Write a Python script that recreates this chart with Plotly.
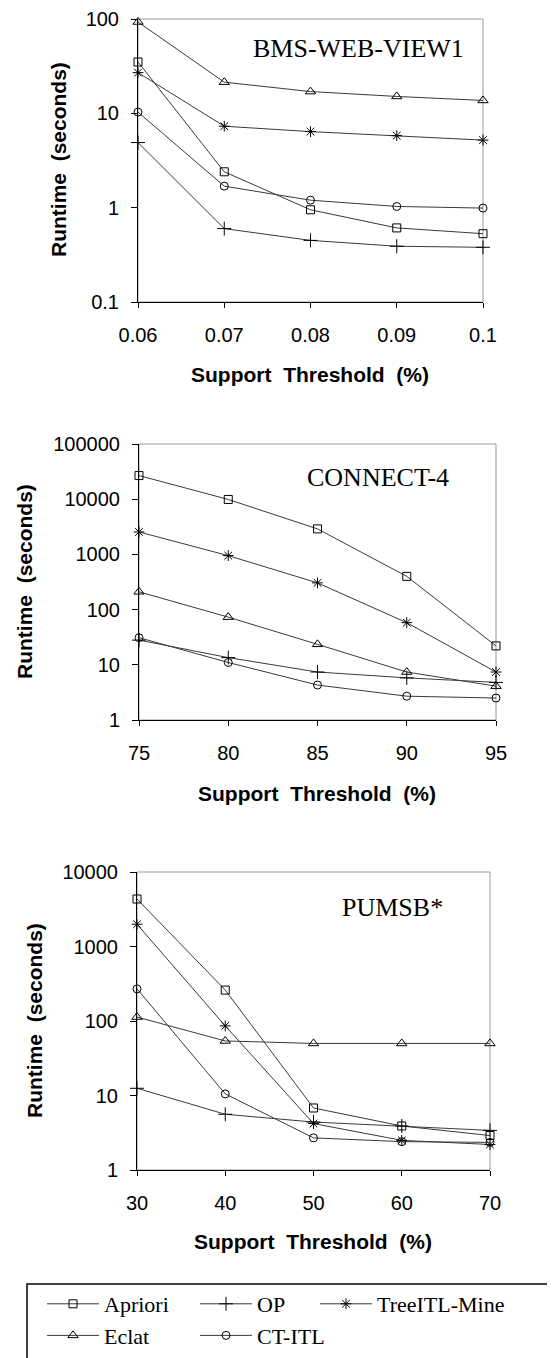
import math
import plotly.graph_objects as go

# ---------------- data ----------------
series_names = ["Apriori", "OP", "TreeITL-Mine", "Eclat", "CT-ITL"]

bms_x = [0.06, 0.07, 0.08, 0.09, 0.1]
bms_x_labels = ["0.06", "0.07", "0.08", "0.09", "0.1"]
bms_apriori = [35, 2.4, 0.95, 0.61, 0.53]
bms_op = [4.9, 0.6, 0.45, 0.39, 0.38]
bms_treeitl = [27, 7.3, 6.4, 5.8, 5.2]
bms_eclat = [93, 21.4, 17, 15.1, 13.7]
bms_ctitl = [10.3, 1.69, 1.2, 1.03, 0.99]
bms_y_ticks = [0.1, 1, 10, 100]
bms_y_labels = ["0.1", "1", "10", "100"]

con_x = [75, 80, 85, 90, 95]
con_x_labels = ["75", "80", "85", "90", "95"]
con_apriori = [26800, 9900, 2900, 400, 22]
con_op = [28, 13.5, 7.4, 5.8, 4.8]
con_treeitl = [2550, 950, 305, 58, 7.4]
con_eclat = [210, 73, 23.5, 7.4, 4.1]
con_ctitl = [31, 11, 4.3, 2.7, 2.5]
con_y_ticks = [1, 10, 100, 1000, 10000, 100000]
con_y_labels = ["1", "10", "100", "1000", "10000", "100000"]

pum_x = [30, 40, 50, 60, 70]
pum_x_labels = ["30", "40", "50", "60", "70"]
pum_apriori = [4340, 260, 6.8, 3.9, 2.9]
pum_op = [12.5, 5.6, 4.4, 3.9, 3.4]
pum_treeitl = [1990, 86, 4.2, 2.5, 2.2]
pum_eclat = [113, 54, 50, 50, 50]
pum_ctitl = [270, 10.5, 2.7, 2.4, 2.35]
pum_y_ticks = [1, 10, 100, 1000, 10000]
pum_y_labels = ["1", "10", "100", "1000", "10000"]

panel_titles = ["BMS-WEB-VIEW1", "CONNECT-4", "PUMSB*"]
x_title = "Support  Threshold  (%)"
y_title = "Runtime  (seconds)"

# ---------------- styling ----------------
PAGE_OFF = 8            # default body margin of the html page
W, H = 555 - PAGE_OFF, 1358 - PAGE_OFF
SANS = "Arial, Liberation Sans, sans-serif"
SERIF = "Times New Roman, Liberation Serif, serif"

symbols = {
    "Apriori": ("square-open", 8),
    "OP": ("cross-thin-open", 10),
    "TreeITL-Mine": ("asterisk-open", 9),
    "Eclat": ("triangle-up-open", 9),
    "CT-ITL": ("circle-open", 8),
}
legend_of = {"Apriori": "legend", "Eclat": "legend",
             "OP": "legend2", "CT-ITL": "legend2",
             "TreeITL-Mine": "legend3"}

# panel pixel boxes on the page: (left, right, top, bottom)
boxes = [(138, 483, 19, 302), (139, 496, 444, 720), (137, 490, 872, 1170)]


def px_x(p):
    return (p - PAGE_OFF) / W


def px_y(p):
    return 1 - (p - PAGE_OFF) / H


panels = [
    (bms_x, bms_x_labels, [bms_apriori, bms_op, bms_treeitl, bms_eclat, bms_ctitl],
     bms_y_ticks, bms_y_labels),
    (con_x, con_x_labels, [con_apriori, con_op, con_treeitl, con_eclat, con_ctitl],
     con_y_ticks, con_y_labels),
    (pum_x, pum_x_labels, [pum_apriori, pum_op, pum_treeitl, pum_eclat, pum_ctitl],
     pum_y_ticks, pum_y_labels),
]

fig = go.Figure()
shapes = []
annotations = []

for i, (xs, xl, ys_list, yt, ytl) in enumerate(panels):
    n = "" if i == 0 else str(i + 1)
    xa, ya = "x" + n, "y" + n
    for name, ys in zip(series_names, ys_list):
        sym, size = symbols[name]
        fig.add_trace(go.Scatter(
            x=xs, y=ys, name=name, mode="lines+markers",
            xaxis=xa, yaxis=ya, cliponaxis=False,
            line=dict(color="#3a3a3a", width=1),
            marker=dict(symbol=sym, size=size, color="black",
                        line=dict(color="black", width=1)),
            showlegend=(i == 0), legend=legend_of[name],
        ))
    l, r, t, b = boxes[i]
    fig.layout["xaxis" + n] = dict(
        domain=[px_x(l), px_x(r)], anchor=ya, range=[xs[0], xs[-1]],
        tickvals=xs, ticktext=xl, ticks="outside", ticklen=5, tickcolor="black",
        showline=True, linecolor="black", linewidth=1, showgrid=False, zeroline=False,
        automargin=False, ticklabeloverflow="allow",
        tickfont=dict(family=SANS, size=20, color="black"), ticklabelstandoff=10,
    )
    fig.layout["yaxis" + n] = dict(
        domain=[px_y(b), px_y(t)], anchor=xa, type="log",
        range=[math.log10(yt[0]), math.log10(yt[-1])],
        tickvals=yt, ticktext=ytl, ticks="outside", ticklen=6, tickcolor="black",
        showline=True, linecolor="black", linewidth=1, showgrid=False, zeroline=False,
        automargin=False, ticklabeloverflow="allow",
        tickfont=dict(family=SANS, size=20, color="black"), ticklabelstandoff=8,
    )
    # gray frame (top/right)
    shapes.append(dict(type="rect", xref=xa + " domain", yref=ya + " domain",
                       x0=0, x1=1, y0=0, y1=1, line=dict(color="#9a9a9a", width=1),
                       layer="below"))

# panel titles
title_pos = [(358, 48), (378, 478), (392, 907)]
for (cx, cy), txt in zip(title_pos, panel_titles):
    annotations.append(dict(text=txt, x=px_x(cx), y=px_y(cy), xref="paper", yref="paper",
                            showarrow=False, xanchor="center", yanchor="middle",
                            font=dict(family=SERIF, size=26, color="black")))

# axis titles
xt_pos = [(310, 375), (317, 793), (313, 1241)]
for cx, cy in xt_pos:
    annotations.append(dict(text="<b>" + x_title + "</b>", x=px_x(cx), y=px_y(cy),
                            xref="paper", yref="paper", showarrow=False,
                            xanchor="center", yanchor="middle",
                            font=dict(family=SANS, size=21, color="black")))
yt_pos = [(59, 160), (25, 582), (34, 1021)]
for cx, cy in yt_pos:
    annotations.append(dict(text="<b>" + y_title + "</b>", x=px_x(cx), y=px_y(cy),
                            xref="paper", yref="paper", showarrow=False, textangle=-90,
                            xanchor="center", yanchor="middle",
                            font=dict(family=SANS, size=21, color="black")))

# legend frame
shapes.append(dict(type="rect", xref="paper", yref="paper",
                   x0=px_x(27), x1=px_x(600), y0=px_y(1420), y1=px_y(1284),
                   line=dict(color="black", width=1.5), fillcolor="rgba(0,0,0,0)"))

leg_common = dict(orientation="v", yanchor="top", xanchor="left",
                  bgcolor="rgba(0,0,0,0)", borderwidth=0, itemwidth=52,
                  font=dict(family=SERIF, size=22, color="black"), tracegroupgap=0)

fig.update_layout(
    template="none",
    width=W, height=H, margin=dict(l=0, r=0, t=0, b=0, autoexpand=False),
    paper_bgcolor="white", plot_bgcolor="white",
    shapes=shapes, annotations=annotations,
    legend=dict(x=px_x(42), y=px_y(1283), **leg_common),
    legend2=dict(x=px_x(195), y=px_y(1283), **leg_common),
    legend3=dict(x=px_x(315), y=px_y(1283), **leg_common),
)

fig.write_html("out.html")
